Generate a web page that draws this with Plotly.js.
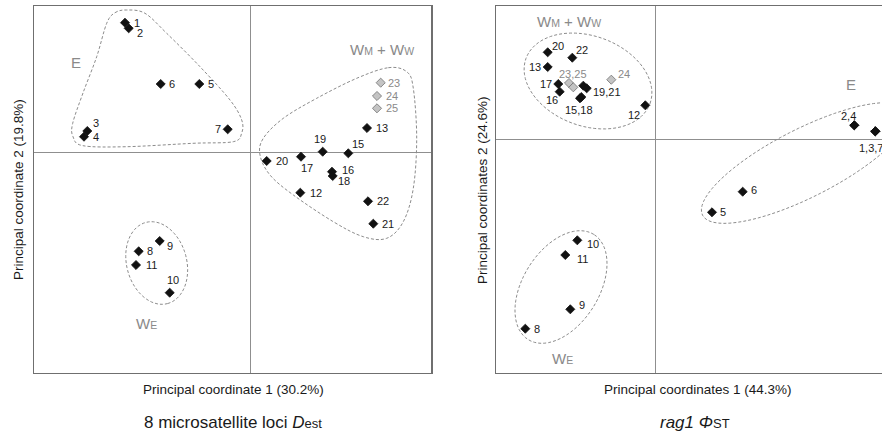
<!DOCTYPE html>
<html>
<head>
<meta charset="utf-8">
<script src="https://cdn.plot.ly/plotly-3.0.1.min.js"></script>
<style>
html,body{margin:0;padding:0;background:#fff;overflow:hidden;}
#chart{width:882px;height:434px;}
</style>
</head>
<body>
<div id="chart"></div>
<script>
(function(){
// ---------- DATA (principal coordinate scores, arbitrary units) ----------
const popNames = ['1','2','3','4','5','6','7','8','9','10','11','12','13','15','16','17','18','19','20','21','22','23','24','25'];

// Panel A: 8 microsatellite loci, Dest
const pcoA_x = [-1.25,-1.213,-1.627,-1.66,-0.507,-0.893,-0.223,-1.113,-0.903,-0.803,-1.14,0.503,1.17,0.983,0.82,0.51,0.827,0.727,0.167,1.233,1.18,1.307,1.27,1.27];
const pcoA_y = [1.293,1.237,0.21,0.153,0.68,0.68,0.227,-0.993,-0.89,-1.407,-1.13,-0.407,0.24,-0.013,-0.197,-0.047,-0.24,0.003,-0.09,-0.717,-0.493,0.693,0.56,0.437];
const labelsA = ['1','2','3','4','5','6','7','8','9','10','11','12','13','15','16','17','18','19','20','21','22','23','24','25'];

// Panel B: rag1, PhiST
const pcoB_x = [2.203,1.993,2.203,1.993,0.57,0.877,2.203,-1.297,-0.847,-0.777,-0.897,-0.097,-1.073,-0.75,-0.953,-0.967,-0.737,-0.717,-1.073,-0.683,-0.827,-0.86,-0.437,-0.817];
const pcoB_y = [0.077,0.137,0.077,0.137,-0.733,-0.527,0.077,-1.897,-1.703,-1.013,-1.16,0.337,0.72,0.407,0.473,0.55,0.42,0.533,0.867,0.507,0.813,0.56,0.593,0.517];
const labelsB = ['1,3,7','2,4','','','5','6','','8','9','10','11','12','13','15,18','16','17','','19,21','20','','22','23,25','24',''];

// reference populations (grey symbols)
const greyPops = ['23','24','25'];

// group names
const groupText = ['E','W<span style="font-size:10.5px">M</span> + W<span style="font-size:10.5px">W</span>','W<span style="font-size:10.5px">E</span>'];

// ---------- STYLE / LAYOUT HELPERS ----------
const W = 882, H = 434;
const FONT = 'Arial, "Liberation Sans", Helvetica, sans-serif';
const frameTop = 6, frameBottom = 372.5;
const domY = [(H-frameBottom)/H, (H-frameTop)/H];
const domXA = [34/W, 431/W];
const domXB = [496/W, 1];

// label offsets (pixels, screen: +dx right, +dy down)
const offA = [[12,0],[11.5,5],[8.7,-8.3],[12,0],[12,0],[11.7,0],[-10,0],[11.3,0],[10,5],[3.6,-12.4],[15.7,0],[16,0],[15,0],[10,-9.3],[15.7,-1.4],[6,11],[11.7,5],[-3,-13],[15,0],[15,0],[15,0],[13,0],[15,0],[15,0]];
const offB = [[-4.3,17],[-6,-9.6],[0,0],[0,0],[11.3,0],[11.3,-1.7],[0,0],[11.4,0],[11.4,-4.3],[16,3.7],[17,4.3],[-11,9.7],[-12.4,0],[-0.7,11.7],[-7.7,8.3],[-12.3,0],[0,0],[23.4,6.6],[10,-6],[0,0],[10,-7.7],[3.7,-9],[12.4,-5.7],[0,0]];

// group label positions (data units)
const grpPosA = [[-1.74,0.893],[1.317,1.027],[-1.033,-1.717]];
const grpPosB = [[1.96,0.543],[-0.863,1.173],[-0.93,-2.197]];

// outline vertices for hand-drawn group envelopes (data units)
const outlineA_E = [[-1.35,1.393],[-1.233,1.42],[-1.05,1.387],[-0.833,1.187],[-0.5,0.853],[-0.2,0.52],[-0.083,0.32],[-0.083,0.19],[-0.167,0.103],[-0.57,0.087],[-1.233,0.053],[-1.67,0.063],[-1.77,0.153],[-1.773,0.287],[-1.67,0.59],[-1.533,0.953],[-1.433,1.287]];
const outlineA_W = [[1.383,0.843],[1.567,0.803],[1.633,0.637],[1.667,0.137],[1.633,-0.363],[1.533,-0.697],[1.367,-0.863],[1.133,-0.847],[0.833,-0.697],[0.433,-0.43],[0.2,-0.23],[0.1,-0.03],[0.133,0.137],[0.333,0.337],[0.667,0.537],[1.067,0.737]];
// ellipses: [cx, cy, a, b, angleDeg]
const ellA_WE = [-0.933,-1.11,0.42,0.30,-75];
const ellB_W = [-0.67,0.58,0.66,0.45,-20];
const ellB_E = [1.50,-0.24,1.15,0.34,27];
const ellB_WE = [-0.94,-1.48,0.62,0.38,58];

function smoothPath(pts){
  const n = pts.length;
  let d = 'M' + pts[0][0] + ',' + pts[0][1];
  for(let i=0;i<n;i++){
    const p0 = pts[(i-1+n)%n], p1 = pts[i], p2 = pts[(i+1)%n], p3 = pts[(i+2)%n];
    const c1 = [p1[0]+(p2[0]-p0[0])/6, p1[1]+(p2[1]-p0[1])/6];
    const c2 = [p2[0]-(p3[0]-p1[0])/6, p2[1]-(p3[1]-p1[1])/6];
    d += ' C' + c1[0].toFixed(4)+','+c1[1].toFixed(4)+' '+c2[0].toFixed(4)+','+c2[1].toFixed(4)+' '+p2[0]+','+p2[1];
  }
  return d + ' Z';
}
function ellipsePath(e){
  const [cx,cy,a,b,ang] = e; const t = ang*Math.PI/180;
  let d = '';
  for(let k=0;k<=72;k++){
    const s = k/72*2*Math.PI;
    const x = cx + a*Math.cos(s)*Math.cos(t) - b*Math.sin(s)*Math.sin(t);
    const y = cy + a*Math.cos(s)*Math.sin(t) + b*Math.sin(s)*Math.cos(t);
    d += (k===0?'M':'L') + x.toFixed(4) + ',' + y.toFixed(4) + ' ';
  }
  return d + 'Z';
}

const BLACK = '#111111', GREY_FILL = '#c4c4c4', GREY_LINE = '#707070', GREY_TXT = '#8a8a8a';
const mColors = popNames.map(p => greyPops.includes(p) ? GREY_FILL : BLACK);
const mLines = popNames.map(p => greyPops.includes(p) ? GREY_LINE : BLACK);

function scatter(xs, ys, xa, ya){
  return {x: xs, y: ys, xaxis: xa, yaxis: ya, type:'scatter', mode:'markers', hoverinfo:'skip',
    marker:{symbol:'diamond', size:7, color:mColors, line:{color:mLines, width:0.8}}, showlegend:false};
}

const annotations = [];
function addLabels(xs, ys, labels, offs, xr, yr){
  labels.forEach((t,i)=>{
    if(!t) return;
    const grey = greyPops.includes(t.split(',')[0]);
    annotations.push({x: xs[i], y: ys[i], xref: xr, yref: yr, text: t, showarrow:false,
      xanchor:'center', yanchor:'middle', xshift: offs[i][0], yshift: -offs[i][1],
      font:{family:FONT, size:11, color: grey ? GREY_TXT : '#1a1a1a'}});
  });
}
addLabels(pcoA_x, pcoA_y, labelsA, offA, 'x', 'y');
addLabels(pcoB_x, pcoB_y, labelsB, offB, 'x2', 'y2');
groupText.forEach((t,i)=>{
  annotations.push({x: grpPosA[i][0], y: grpPosA[i][1], xref:'x', yref:'y', text:t, showarrow:false,
    xanchor:'center', yanchor:'middle', font:{family:FONT, size:15, color:GREY_TXT}});
  annotations.push({x: grpPosB[i][0], y: grpPosB[i][1], xref:'x2', yref:'y2', text:t, showarrow:false,
    xanchor:'center', yanchor:'middle', font:{family:FONT, size:15, color:GREY_TXT}});
});
// axis titles and panel captions
function addText(px, py, t, size, rot){
  annotations.push({x: px/W, y: 1-py/H, xref:'paper', yref:'paper', text:t, showarrow:false,
    xanchor:'center', yanchor:'middle', textangle: rot||0, font:{family:FONT, size:size, color:'#1a1a1a'}});
}
addText(233, 389, 'Principal coordinate 1 (30.2%)', 13.5);
addText(698, 389, 'Principal coordinates 1 (44.3%)', 13.5);
addText(18, 190, 'Principal coordinate 2 (19.8%)', 13.5, -90);
addText(482, 190, 'Principal coordinates 2 (24.6%)', 13.5, -90);
addText(233, 422, '8 microsatellite loci <i>D</i><span style="font-size:13px">est</span>', 17);
addText(695, 422, '<i>rag1 Φ</i><span style="font-size:13px">ST</span>', 17);

const dashLine = {color:'#8c8c8c', width:1, dash:'3px,2px'};
const shapes = [
  {type:'path', xref:'x', yref:'y', path: smoothPath(outlineA_E), line: dashLine},
  {type:'path', xref:'x', yref:'y', path: smoothPath(outlineA_W), line: dashLine},
  {type:'path', xref:'x', yref:'y', path: ellipsePath(ellA_WE), line: dashLine},
  {type:'path', xref:'x2', yref:'y2', path: ellipsePath(ellB_W), line: dashLine},
  {type:'path', xref:'x2', yref:'y2', path: ellipsePath(ellB_E), line: dashLine},
  {type:'path', xref:'x2', yref:'y2', path: ellipsePath(ellB_WE), line: dashLine}
];

const axBase = {showgrid:false, showticklabels:false, ticks:'', zeroline:true, zerolinecolor:'#8f8f8f', zerolinewidth:1,
  showline:true, linecolor:'#6f6f6f', linewidth:1.5, fixedrange:true};

const layout = {
  width: W, height: H, margin:{l:0,r:0,t:0,b:0}, paper_bgcolor:'#fff', plot_bgcolor:'#fff',
  showlegend:false,
  xaxis: Object.assign({}, axBase, {domain:domXA, range:[-2.16,1.81], mirror:true, anchor:'y'}),
  yaxis: Object.assign({}, axBase, {domain:domY, range:[-2.205,1.46], mirror:true, anchor:'x'}),
  xaxis2: Object.assign({}, axBase, {domain:domXB, range:[-1.59,2.27], mirror:true, anchor:'y2'}),
  yaxis2: Object.assign({}, axBase, {domain:domY, range:[-2.335,1.33], mirror:false, anchor:'x2'}),
  annotations: annotations, shapes: shapes
};

Plotly.newPlot('chart', [scatter(pcoA_x,pcoA_y,'x','y'), scatter(pcoB_x,pcoB_y,'x2','y2')], layout, {displayModeBar:false, staticPlot:true});
})();
</script>
</body>
</html>
